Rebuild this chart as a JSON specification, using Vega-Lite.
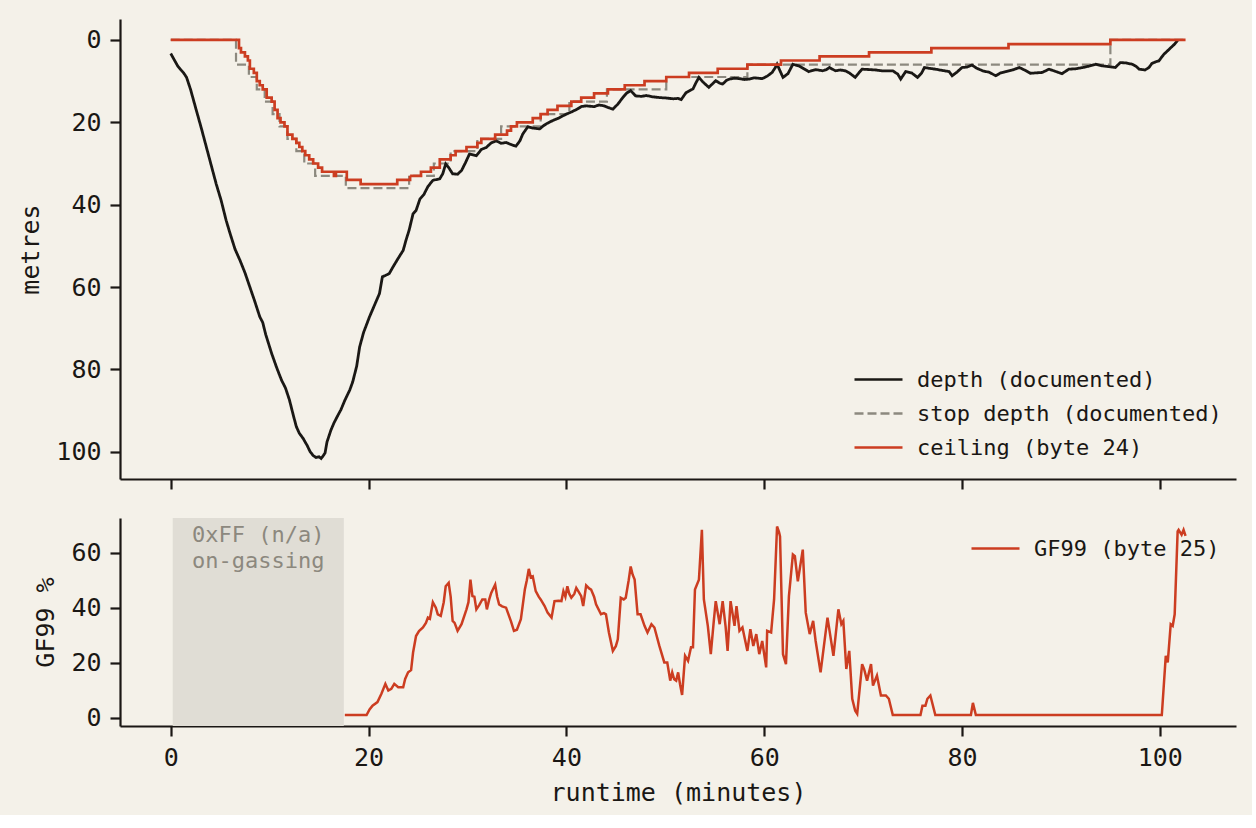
{
  "$schema": "https://vega.github.io/schema/vega-lite/v6.json",
  "background": "#f4f1e9",
  "padding": {"left": 18, "top": 19, "right": 16, "bottom": 10},
  "config": {
    "view": {"stroke": null},
    "font": "DejaVu Sans Mono",
    "axis": {
      "labelFont": "DejaVu Sans Mono",
      "titleFont": "DejaVu Sans Mono",
      "labelFontSize": 25,
      "titleFontSize": 25,
      "titleFontWeight": "normal",
      "labelColor": "#1a1714",
      "titleColor": "#1a1714",
      "domainColor": "#1a1714",
      "tickColor": "#1a1714",
      "domainWidth": 2.2,
      "tickWidth": 2.2,
      "tickSize": 10,
      "labelPadding": 9,
      "titlePadding": 12,
      "grid": false
    },
    "legend": {
      "labelFont": "DejaVu Sans Mono",
      "labelFontSize": 22,
      "labelColor": "#1a1714",
      "labelLimit": 0,
      "title": null,
      "padding": 0,
      "symbolType": "M-2,0H2",
      "symbolSize": 576,
      "labelOffset": 25,
      "rowPadding": 9
    }
  },
  "datasets": {
    "top": [
      {"s":"depth","t":0,"d":3.3},{"s":"depth","t":0.3,"d":4.6},{"s":"depth","t":0.7,"d":6.3},{"s":"depth","t":1.0,"d":7.2},
      {"s":"depth","t":1.3,"d":8.0},{"s":"depth","t":1.6,"d":9.1},{"s":"depth","t":2.0,"d":12.0},{"s":"depth","t":2.6,"d":17.2},
      {"s":"depth","t":3.1,"d":21.5},{"s":"depth","t":3.6,"d":26},{"s":"depth","t":4.1,"d":30.5},{"s":"depth","t":4.6,"d":35},
      {"s":"depth","t":5.1,"d":39},{"s":"depth","t":5.6,"d":43.8},{"s":"depth","t":6.0,"d":47},{"s":"depth","t":6.5,"d":50.8},
      {"s":"depth","t":7.0,"d":53.5},{"s":"depth","t":7.5,"d":56.5},{"s":"depth","t":8.0,"d":60},{"s":"depth","t":8.5,"d":63.5},
      {"s":"depth","t":9.0,"d":67.2},{"s":"depth","t":9.3,"d":68.6},{"s":"depth","t":9.6,"d":71.5},{"s":"depth","t":10.2,"d":76.1},
      {"s":"depth","t":10.7,"d":79.5},{"s":"depth","t":11.2,"d":82.6},{"s":"depth","t":11.6,"d":84.5},{"s":"depth","t":12.0,"d":87.4},
      {"s":"depth","t":12.4,"d":91.2},{"s":"depth","t":12.7,"d":93.9},{"s":"depth","t":13.0,"d":95.5},{"s":"depth","t":13.4,"d":96.8},
      {"s":"depth","t":13.8,"d":98.5},{"s":"depth","t":14.1,"d":100},{"s":"depth","t":14.4,"d":100.9},{"s":"depth","t":14.7,"d":101.4},
      {"s":"depth","t":15.0,"d":101.2},{"s":"depth","t":15.2,"d":101.6},{"s":"depth","t":15.4,"d":101},{"s":"depth","t":15.6,"d":100.3},
      {"s":"depth","t":15.8,"d":97.6},{"s":"depth","t":16.2,"d":94.7},{"s":"depth","t":16.5,"d":93},{"s":"depth","t":16.8,"d":91.6},
      {"s":"depth","t":17.2,"d":89.8},{"s":"depth","t":17.6,"d":87.5},{"s":"depth","t":18.1,"d":85},{"s":"depth","t":18.4,"d":83},
      {"s":"depth","t":18.8,"d":79.2},{"s":"depth","t":19.1,"d":74.5},{"s":"depth","t":19.5,"d":71},{"s":"depth","t":20.1,"d":67.2},
      {"s":"depth","t":20.6,"d":64.4},{"s":"depth","t":21.1,"d":61.6},{"s":"depth","t":21.4,"d":57.5},{"s":"depth","t":21.7,"d":57.2},
      {"s":"depth","t":22.1,"d":56.7},{"s":"depth","t":22.5,"d":55},{"s":"depth","t":23.0,"d":53},{"s":"depth","t":23.5,"d":51.1},
      {"s":"depth","t":23.8,"d":48.5},{"s":"depth","t":24.1,"d":46.2},{"s":"depth","t":24.5,"d":42.2},{"s":"depth","t":24.8,"d":41.4},
      {"s":"depth","t":25.2,"d":38.6},{"s":"depth","t":25.6,"d":37.5},{"s":"depth","t":26.0,"d":35.6},{"s":"depth","t":26.5,"d":34.1},
      {"s":"depth","t":27.2,"d":33.7},{"s":"depth","t":27.5,"d":32.5},{"s":"depth","t":27.8,"d":30.1},{"s":"depth","t":28.1,"d":31},
      {"s":"depth","t":28.5,"d":32.5},{"s":"depth","t":29.0,"d":32.6},{"s":"depth","t":29.4,"d":31.7},{"s":"depth","t":29.8,"d":29.8},
      {"s":"depth","t":30.2,"d":27.7},{"s":"depth","t":30.9,"d":28.1},{"s":"depth","t":31.4,"d":26.6},{"s":"depth","t":31.9,"d":26.1},
      {"s":"depth","t":32.4,"d":25.0},{"s":"depth","t":32.9,"d":24.5},{"s":"depth","t":33.4,"d":25.1},{"s":"depth","t":33.9,"d":24.9},
      {"s":"depth","t":34.4,"d":25.4},{"s":"depth","t":34.9,"d":25.8},{"s":"depth","t":35.3,"d":24.5},{"s":"depth","t":35.6,"d":22.8},
      {"s":"depth","t":36.1,"d":21.1},{"s":"depth","t":36.6,"d":21.4},{"s":"depth","t":37.3,"d":21.6},{"s":"depth","t":37.7,"d":20.8},
      {"s":"depth","t":38.1,"d":20.2},{"s":"depth","t":38.6,"d":19.6},{"s":"depth","t":39.2,"d":19.0},{"s":"depth","t":40.0,"d":18},
      {"s":"depth","t":40.5,"d":17.5},{"s":"depth","t":41.1,"d":16.8},{"s":"depth","t":41.5,"d":16.2},{"s":"depth","t":42.0,"d":16},
      {"s":"depth","t":42.8,"d":16.2},{"s":"depth","t":43.3,"d":15.8},{"s":"depth","t":43.8,"d":16},{"s":"depth","t":44.2,"d":16.4},
      {"s":"depth","t":44.7,"d":16.8},{"s":"depth","t":45.2,"d":15.6},{"s":"depth","t":45.7,"d":14},{"s":"depth","t":46.1,"d":12.9},
      {"s":"depth","t":46.5,"d":12.3},{"s":"depth","t":47.0,"d":13.6},{"s":"depth","t":47.6,"d":13.7},{"s":"depth","t":48.1,"d":13.5},
      {"s":"depth","t":48.7,"d":13.8},{"s":"depth","t":49.4,"d":14.0},{"s":"depth","t":50.1,"d":14.1},{"s":"depth","t":50.8,"d":14.3},
      {"s":"depth","t":51.3,"d":14.2},{"s":"depth","t":51.6,"d":14.5},{"s":"depth","t":52.1,"d":12.8},{"s":"depth","t":52.8,"d":11.9},
      {"s":"depth","t":53.1,"d":10.4},{"s":"depth","t":53.4,"d":9.1},{"s":"depth","t":53.8,"d":10.2},{"s":"depth","t":54.4,"d":11.5},
      {"s":"depth","t":54.8,"d":10.6},{"s":"depth","t":55.1,"d":9.9},{"s":"depth","t":55.5,"d":10.5},{"s":"depth","t":55.8,"d":10.7},
      {"s":"depth","t":56.2,"d":9.8},{"s":"depth","t":56.5,"d":9.5},{"s":"depth","t":57.0,"d":9.3},{"s":"depth","t":57.5,"d":9.4},
      {"s":"depth","t":58.0,"d":9.6},{"s":"depth","t":58.5,"d":9.5},{"s":"depth","t":59.0,"d":9.2},{"s":"depth","t":59.4,"d":9.3},
      {"s":"depth","t":59.8,"d":9.4},{"s":"depth","t":60.3,"d":8.8},{"s":"depth","t":60.8,"d":7.9},{"s":"depth","t":61.1,"d":6.8},
      {"s":"depth","t":61.3,"d":5.9},{"s":"depth","t":61.6,"d":7.5},{"s":"depth","t":61.9,"d":9.1},{"s":"depth","t":62.4,"d":8.2},
      {"s":"depth","t":62.9,"d":5.9},{"s":"depth","t":63.5,"d":6.3},{"s":"depth","t":64.0,"d":7.0},{"s":"depth","t":64.5,"d":7.7},
      {"s":"depth","t":65.2,"d":7.2},{"s":"depth","t":65.9,"d":7.5},{"s":"depth","t":66.3,"d":7.2},{"s":"depth","t":66.6,"d":6.7},
      {"s":"depth","t":67.2,"d":7.5},{"s":"depth","t":67.7,"d":7.3},{"s":"depth","t":68.2,"d":7.5},{"s":"depth","t":68.6,"d":8.0},
      {"s":"depth","t":69.2,"d":9.1},{"s":"depth","t":69.6,"d":7.9},{"s":"depth","t":69.9,"d":7.1},{"s":"depth","t":70.6,"d":7.2},
      {"s":"depth","t":71.3,"d":7.3},{"s":"depth","t":71.9,"d":7.5},{"s":"depth","t":72.6,"d":7.5},{"s":"depth","t":73.0,"d":7.5},
      {"s":"depth","t":73.5,"d":8.3},{"s":"depth","t":73.8,"d":9.5},{"s":"depth","t":74.3,"d":7.7},{"s":"depth","t":74.9,"d":8.0},
      {"s":"depth","t":75.5,"d":9.1},{"s":"depth","t":75.9,"d":8.1},{"s":"depth","t":76.2,"d":6.7},{"s":"depth","t":76.7,"d":6.9},
      {"s":"depth","t":77.3,"d":7.1},{"s":"depth","t":78.0,"d":7.4},{"s":"depth","t":78.7,"d":7.7},{"s":"depth","t":79.0,"d":8.7},
      {"s":"depth","t":79.5,"d":7.8},{"s":"depth","t":80.0,"d":6.7},{"s":"depth","t":80.5,"d":6.6},{"s":"depth","t":81.0,"d":6.1},
      {"s":"depth","t":81.5,"d":6.9},{"s":"depth","t":82.1,"d":7.5},{"s":"depth","t":82.8,"d":7.9},{"s":"depth","t":83.4,"d":8.7},
      {"s":"depth","t":83.9,"d":8.0},{"s":"depth","t":84.4,"d":7.7},{"s":"depth","t":85.1,"d":7.3},{"s":"depth","t":85.8,"d":6.7},
      {"s":"depth","t":86.4,"d":7.4},{"s":"depth","t":86.9,"d":8.1},{"s":"depth","t":87.5,"d":8.0},{"s":"depth","t":88.1,"d":7.9},
      {"s":"depth","t":88.8,"d":7.1},{"s":"depth","t":89.4,"d":7.6},{"s":"depth","t":90.1,"d":8.2},{"s":"depth","t":90.8,"d":7.1},
      {"s":"depth","t":91.5,"d":7.0},{"s":"depth","t":92.2,"d":6.7},{"s":"depth","t":92.8,"d":6.4},{"s":"depth","t":93.5,"d":5.9},
      {"s":"depth","t":94.2,"d":6.3},{"s":"depth","t":94.9,"d":6.5},{"s":"depth","t":95.5,"d":6.7},{"s":"depth","t":96.0,"d":5.5},
      {"s":"depth","t":96.6,"d":5.6},{"s":"depth","t":97.2,"d":5.9},{"s":"depth","t":97.6,"d":6.4},{"s":"depth","t":97.9,"d":7.1},
      {"s":"depth","t":98.5,"d":7.3},{"s":"depth","t":98.9,"d":6.7},{"s":"depth","t":99.2,"d":5.7},{"s":"depth","t":99.6,"d":5.3},
      {"s":"depth","t":99.9,"d":5.1},{"s":"depth","t":100.4,"d":3.5},{"s":"depth","t":100.8,"d":2.6},{"s":"depth","t":101.1,"d":1.9},
      {"s":"depth","t":101.5,"d":1.0},{"s":"depth","t":101.8,"d":0.1},

      {"s":"stop","t":0,"d":0},{"s":"stop","t":6.6,"d":6},{"s":"stop","t":7.9,"d":9},{"s":"stop","t":8.7,"d":12},
      {"s":"stop","t":9.5,"d":15},{"s":"stop","t":10.3,"d":18},{"s":"stop","t":11.0,"d":21},{"s":"stop","t":11.8,"d":24},
      {"s":"stop","t":12.7,"d":27},{"s":"stop","t":13.5,"d":30},{"s":"stop","t":14.6,"d":33},{"s":"stop","t":17.7,"d":36},
      {"s":"stop","t":24.1,"d":33},{"s":"stop","t":26.6,"d":30},{"s":"stop","t":28.3,"d":27},{"s":"stop","t":31.0,"d":24},
      {"s":"stop","t":33.4,"d":21},{"s":"stop","t":37.4,"d":18},{"s":"stop","t":40.3,"d":15},{"s":"stop","t":44.1,"d":12},
      {"s":"stop","t":50.1,"d":9},{"s":"stop","t":58.3,"d":6},{"s":"stop","t":95.0,"d":0},{"s":"stop","t":102.6,"d":0},

      {"s":"ceiling","t":0,"d":0},{"s":"ceiling","t":6.7,"d":0},{"s":"ceiling","t":6.9,"d":2},{"s":"ceiling","t":7.1,"d":3},
      {"s":"ceiling","t":7.5,"d":4},{"s":"ceiling","t":7.8,"d":5},{"s":"ceiling","t":8.0,"d":7},{"s":"ceiling","t":8.4,"d":8},
      {"s":"ceiling","t":8.7,"d":10},{"s":"ceiling","t":9.0,"d":11},{"s":"ceiling","t":9.3,"d":12},{"s":"ceiling","t":9.7,"d":14},
      {"s":"ceiling","t":10.2,"d":15},{"s":"ceiling","t":10.5,"d":17},{"s":"ceiling","t":10.8,"d":19},{"s":"ceiling","t":11.1,"d":20},
      {"s":"ceiling","t":11.5,"d":21},{"s":"ceiling","t":11.8,"d":23},{"s":"ceiling","t":12.3,"d":24},{"s":"ceiling","t":12.7,"d":25},
      {"s":"ceiling","t":13.0,"d":26},{"s":"ceiling","t":13.3,"d":27},{"s":"ceiling","t":13.6,"d":28},{"s":"ceiling","t":14.0,"d":29},
      {"s":"ceiling","t":14.4,"d":30},{"s":"ceiling","t":14.9,"d":31},{"s":"ceiling","t":15.3,"d":32},{"s":"ceiling","t":16.5,"d":33},
      {"s":"ceiling","t":16.7,"d":32},{"s":"ceiling","t":17.8,"d":34},{"s":"ceiling","t":19.2,"d":35},{"s":"ceiling","t":22.9,"d":34},
      {"s":"ceiling","t":24.2,"d":33},{"s":"ceiling","t":25.3,"d":32},{"s":"ceiling","t":26.3,"d":31},{"s":"ceiling","t":27.2,"d":29},
      {"s":"ceiling","t":28.3,"d":28},{"s":"ceiling","t":28.8,"d":27},{"s":"ceiling","t":29.9,"d":26},{"s":"ceiling","t":31.0,"d":25},
      {"s":"ceiling","t":31.4,"d":24},{"s":"ceiling","t":32.8,"d":23},{"s":"ceiling","t":34.0,"d":22},{"s":"ceiling","t":34.4,"d":21},
      {"s":"ceiling","t":35.0,"d":20},{"s":"ceiling","t":36.6,"d":19},{"s":"ceiling","t":37.4,"d":18},{"s":"ceiling","t":38.1,"d":17},
      {"s":"ceiling","t":39.1,"d":16},{"s":"ceiling","t":40.5,"d":15},{"s":"ceiling","t":41.5,"d":14},{"s":"ceiling","t":42.8,"d":13},
      {"s":"ceiling","t":44.2,"d":12},{"s":"ceiling","t":45.9,"d":11},{"s":"ceiling","t":47.9,"d":10},{"s":"ceiling","t":50.1,"d":9},
      {"s":"ceiling","t":52.4,"d":8},{"s":"ceiling","t":55.3,"d":7},{"s":"ceiling","t":58.3,"d":6},{"s":"ceiling","t":61.7,"d":5},
      {"s":"ceiling","t":65.6,"d":4},{"s":"ceiling","t":70.6,"d":3},{"s":"ceiling","t":76.9,"d":2},{"s":"ceiling","t":84.7,"d":1},
      {"s":"ceiling","t":95.0,"d":0},{"s":"ceiling","t":102.6,"d":0}
    ],
    "gf": [
      {"t":17.6,"g":1},{"t":19.8,"g":1},{"t":20.1,"g":3},{"t":20.4,"g":4.4},{"t":20.9,"g":5.7},{"t":21.3,"g":8.7},
      {"t":21.7,"g":12.3},{"t":22.0,"g":9.9},{"t":22.3,"g":10.5},{"t":22.6,"g":12.3},{"t":23.0,"g":11.1},{"t":23.5,"g":11.1},
      {"t":23.7,"g":14.1},{"t":24.0,"g":16.5},{"t":24.3,"g":17.3},{"t":24.5,"g":23.7},{"t":24.8,"g":29.7},{"t":25.1,"g":31.5},
      {"t":25.5,"g":32.8},{"t":25.8,"g":34.5},{"t":26.0,"g":36.4},{"t":26.2,"g":36},{"t":26.5,"g":42.0},{"t":26.8,"g":40},
      {"t":27.0,"g":37.6},{"t":27.3,"g":37.0},{"t":27.6,"g":42},{"t":27.8,"g":47.8},{"t":28.1,"g":49.0},{"t":28.3,"g":44},
      {"t":28.5,"g":35.2},{"t":28.7,"g":34.5},{"t":29.0,"g":31.6},{"t":29.4,"g":34.0},{"t":29.9,"g":39.4},{"t":30.1,"g":42},
      {"t":30.3,"g":50.2},{"t":30.5,"g":44.2},{"t":30.7,"g":44},{"t":30.9,"g":39.4},{"t":31.2,"g":41},{"t":31.5,"g":43.0},
      {"t":31.8,"g":43},{"t":31.96,"g":39.4},{"t":32.2,"g":43},{"t":32.4,"g":45.4},{"t":32.8,"g":48.4},{"t":33.0,"g":44},
      {"t":33.2,"g":41.2},{"t":33.5,"g":40.5},{"t":33.9,"g":40.0},{"t":34.1,"g":38},{"t":34.4,"g":35},{"t":34.7,"g":31.6},
      {"t":35.0,"g":32},{"t":35.4,"g":35.8},{"t":35.8,"g":46.6},{"t":36.0,"g":50},{"t":36.2,"g":54.1},{"t":36.4,"g":51},
      {"t":36.6,"g":51.4},{"t":36.9,"g":46.0},{"t":37.2,"g":44},{"t":37.4,"g":43.0},{"t":37.8,"g":40.6},{"t":38.1,"g":38.2},
      {"t":38.5,"g":36.4},{"t":38.8,"g":42.4},{"t":39.2,"g":42.5},{"t":39.5,"g":42.4},{"t":39.7,"g":46.0},{"t":39.9,"g":44},
      {"t":40.1,"g":47.8},{"t":40.3,"g":45},{"t":40.5,"g":43.6},{"t":40.8,"g":45},{"t":41.0,"g":47.2},{"t":41.2,"g":46},
      {"t":41.5,"g":44.2},{"t":41.7,"g":40.6},{"t":42.0,"g":48.1},{"t":42.3,"g":47},{"t":42.5,"g":46.6},{"t":42.8,"g":44},
      {"t":43.0,"g":41.2},{"t":43.5,"g":37.6},{"t":43.8,"g":38},{"t":44.0,"g":37.6},{"t":44.3,"g":31.0},{"t":44.7,"g":24.3},
      {"t":45.0,"g":26},{"t":45.2,"g":28.5},{"t":45.5,"g":43.6},{"t":45.8,"g":43},{"t":46.0,"g":43.6},{"t":46.3,"g":50},
      {"t":46.5,"g":55.0},{"t":46.7,"g":52},{"t":46.9,"g":50.2},{"t":47.2,"g":37.6},{"t":47.5,"g":37.6},{"t":47.9,"g":33.4},
      {"t":48.2,"g":31.0},{"t":48.6,"g":34.0},{"t":48.9,"g":32.8},{"t":49.4,"g":26.1},{"t":49.9,"g":20.1},{"t":50.2,"g":20.1},
      {"t":50.5,"g":13.5},{"t":50.7,"g":16.5},{"t":50.9,"g":14},{"t":51.1,"g":13.5},{"t":51.3,"g":16.5},{"t":51.5,"g":12},
      {"t":51.7,"g":8.3},{"t":52.0,"g":22.5},{"t":52.3,"g":20.7},{"t":52.6,"g":25.6},{"t":52.8,"g":25.6},{"t":53.0,"g":46.6},
      {"t":53.4,"g":50.2},{"t":53.7,"g":68.3},{"t":53.9,"g":43.0},{"t":54.3,"g":33.4},{"t":54.6,"g":23.1},{"t":54.9,"g":35},
      {"t":55.1,"g":42.4},{"t":55.5,"g":34.0},{"t":55.8,"g":42.4},{"t":56.1,"g":33},{"t":56.3,"g":24.3},{"t":56.6,"g":42.4},
      {"t":57.0,"g":33.4},{"t":57.2,"g":40.6},{"t":57.5,"g":31.6},{"t":57.8,"g":32.8},{"t":58.3,"g":24.3},{"t":58.6,"g":32.2},
      {"t":58.9,"g":26.1},{"t":59.2,"g":30.4},{"t":59.5,"g":23.1},{"t":59.8,"g":27.9},{"t":60.2,"g":18.3},{"t":60.3,"g":31.6},
      {"t":60.7,"g":31.0},{"t":61.0,"g":43.0},{"t":61.3,"g":69.5},{"t":61.5,"g":67.5},{"t":61.6,"g":65.9},{"t":61.9,"g":23.1},
      {"t":62.2,"g":19.5},{"t":62.5,"g":44.2},{"t":62.9,"g":59.3},{"t":63.1,"g":58.7},{"t":63.4,"g":49.6},{"t":63.9,"g":61.1},
      {"t":64.2,"g":38.2},{"t":64.6,"g":30.4},{"t":64.95,"g":35.2},{"t":65.2,"g":27.9},{"t":65.7,"g":16.5},{"t":66.4,"g":36.4},
      {"t":67.0,"g":22.5},{"t":67.5,"g":39.4},{"t":67.8,"g":34.0},{"t":68.0,"g":35.2},{"t":68.3,"g":17.7},{"t":68.6,"g":24.3},
      {"t":68.9,"g":6.9},{"t":69.2,"g":2.5},{"t":69.4,"g":1.4},{"t":69.9,"g":19.5},{"t":70.1,"g":17.7},{"t":70.4,"g":13.5},
      {"t":70.8,"g":19.5},{"t":71.0,"g":11.7},{"t":71.4,"g":15.3},{"t":71.8,"g":8.1},{"t":72.3,"g":8.1},{"t":72.6,"g":6.9},
      {"t":73.0,"g":1},{"t":75.8,"g":1},{"t":76.0,"g":4.4},{"t":76.3,"g":4.4},{"t":76.5,"g":6.9},{"t":76.8,"g":8.1},
      {"t":77.3,"g":1},{"t":80.9,"g":1},{"t":81.1,"g":5.4},{"t":81.4,"g":1},{"t":100.2,"g":1},{"t":100.6,"g":22.5},
      {"t":100.8,"g":20.1},{"t":101.1,"g":34.0},{"t":101.3,"g":33.4},{"t":101.5,"g":37.6},{"t":101.8,"g":67.7},{"t":101.9,"g":68.3},
      {"t":102.2,"g":66.5},{"t":102.4,"g":68.3},{"t":102.6,"g":66.1}
    ],
    "band": [{"a": 0.2, "b": 17.5}],
    "note": [{"t": 8.85, "g": 70.1, "label": "0xFF (n/a)\non-gassing"}]
  },
  "resolve": {
    "scale": {"color": "independent", "strokeDash": "independent"},
    "legend": {"color": "independent", "strokeDash": "independent"}
  },
  "spacing": 27,
  "vconcat": [
    {
      "width": 1116,
      "height": 460,
      "data": {"name": "top"},
      "encoding": {
        "x": {
          "field": "t",
          "type": "quantitative",
          "scale": {"domain": [-5.13, 107.7], "nice": false, "zero": false},
          "axis": {"values": [0, 20, 40, 60, 80, 100], "labels": false, "title": null}
        },
        "y": {
          "field": "d",
          "type": "quantitative",
          "scale": {"domain": [-5.08, 106.6], "reverse": true, "nice": false, "zero": false},
          "axis": {"values": [0, 20, 40, 60, 80, 100], "title": "metres"}
        },
        "color": {
          "field": "s",
          "type": "nominal",
          "scale": {"domain": ["depth", "stop", "ceiling"], "range": ["#1a1815", "#8c897f", "#cc3d21"]},
          "legend": {
            "orient": "none",
            "legendX": 745,
            "legendY": 347,
            "symbolStrokeWidth": 2.6,
            "labelExpr": "datum.label == 'depth' ? 'depth (documented)' : datum.label == 'stop' ? 'stop depth (documented)' : 'ceiling (byte 24)'"
          }
        },
        "strokeDash": {
          "field": "s",
          "type": "nominal",
          "scale": {"domain": ["depth", "stop", "ceiling"], "range": [[1, 0], [9, 4], [1, 0]]},
          "legend": {
            "orient": "none",
            "legendX": 745,
            "legendY": 347,
            "symbolStrokeWidth": 2.6,
            "labelExpr": "datum.label == 'depth' ? 'depth (documented)' : datum.label == 'stop' ? 'stop depth (documented)' : 'ceiling (byte 24)'"
          }
        }
      },
      "layer": [
        {
          "transform": [{"filter": "datum.s == 'stop'"}],
          "mark": {"type": "line", "interpolate": "step-after", "strokeWidth": 2.2}
        },
        {
          "transform": [{"filter": "datum.s == 'depth'"}],
          "mark": {"type": "line", "strokeWidth": 2.8}
        },
        {
          "transform": [{"filter": "datum.s == 'ceiling'"}],
          "mark": {"type": "line", "interpolate": "step-after", "strokeWidth": 2.7}
        }
      ]
    },
    {
      "width": 1116,
      "height": 208,
      "layer": [
        {
          "data": {"name": "band"},
          "mark": {"type": "rect", "color": "#e0ddd5"},
          "encoding": {
            "x": {"field": "a", "type": "quantitative", "scale": {"domain": [-5.13, 107.7], "nice": false, "zero": false}},
            "x2": {"field": "b"}
          }
        },
        {
          "data": {"name": "note"},
          "mark": {"type": "text", "lineBreak": "\n", "baseline": "top", "align": "center", "fontSize": 22, "lineHeight": 26, "color": "#8c887e", "font": "DejaVu Sans Mono"},
          "encoding": {
            "x": {"field": "t", "type": "quantitative"},
            "y": {"field": "g", "type": "quantitative"},
            "text": {"field": "label"}
          }
        },
        {
          "data": {"name": "gf"},
          "mark": {"type": "line", "strokeWidth": 2.5},
          "encoding": {
            "x": {
              "field": "t",
              "type": "quantitative",
              "scale": {"domain": [-5.13, 107.7], "nice": false, "zero": false},
              "axis": {"values": [0, 20, 40, 60, 80, 100], "title": "runtime (minutes)", "titlePadding": 10}
            },
            "y": {
              "field": "g",
              "type": "quantitative",
              "scale": {"domain": [-3, 72.6], "nice": false, "zero": false},
              "axis": {"values": [0, 20, 40, 60], "title": "GF99 %"}
            },
            "color": {
              "datum": "GF99 (byte 25)",
              "type": "nominal",
              "scale": {"range": ["#cc3d21"]},
              "legend": {"orient": "none", "legendX": 862, "legendY": 17, "symbolStrokeWidth": 2.4}
            }
          }
        }
      ]
    }
  ]
}
